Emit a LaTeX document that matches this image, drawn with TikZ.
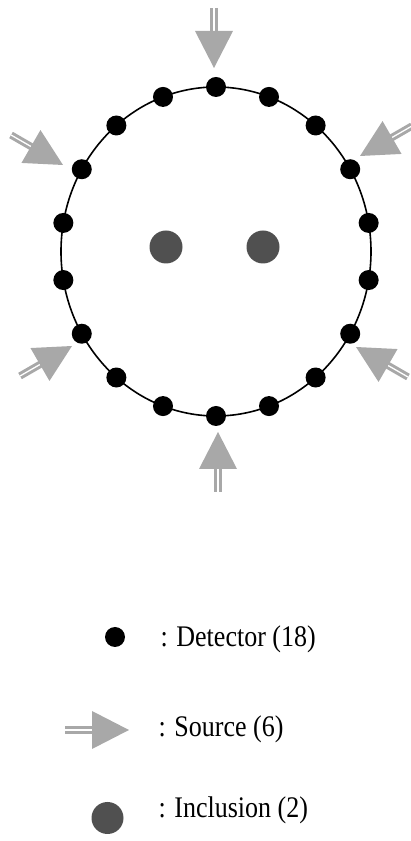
\documentclass[tikz,border=0pt]{standalone}
\usepackage{fontspec}
\setmainfont{Liberation Serif}
\usetikzlibrary{calc,positioning}
\definecolor{srcgray}{HTML}{A8A8A8}
\definecolor{incgray}{HTML}{505050}
\tikzset{
  detector/.style={circle, fill=black, inner sep=0pt, minimum size=20pt},
  inclusion/.style={circle, fill=incgray, inner sep=0pt, minimum size=33pt},
  shaft/.style={srcgray, line width=3pt, double=white, double distance=1.3pt},
  keytext/.style={anchor=base west, font=\fontsize{26}{30}\selectfont, yscale=1.15},
}
% source arrow: tip, direction, total length
\newcommand{\sourcearrow}[3]{%
  \draw[shaft] ($(#1)+({#2+180}:#3)$) -- ($(#1)+({#2+180}:35)$);
  \fill[srcgray] (#1) -- ($(#1)+({#2+180}:37)+({#2+90}:19)$)
    -- ($(#1)+({#2+180}:37)+({#2-90}:19)$) -- cycle;
}

\begin{document}
\begin{tikzpicture}[x=1pt, y=1pt]
  \useasboundingbox (0,0) rectangle (411,841);
  \coordinate (c) at (216,589.5);

  % Boundary
  \draw[line width=1.6pt] (c) ellipse [x radius=155, y radius=164.5];
  % Detectors
  \foreach \k in {0,...,17} {
    \node[detector] (d\k) at ($(c)+({155*cos(90+20*\k)},{164.5*sin(90+20*\k)})$) {};
  }
  % Inclusions
  \node[inclusion] (inc1) at (166,594) {};
  \node[inclusion] (inc2) at (263,594) {};
  % Sources
  \foreach \n/\x/\y/\a in {1/214/773/-90, 2/360/685/210, 3/356/494/150,
                           4/218/409/90, 5/72/495/30, 6/63/676/-30} {
    \coordinate (s\n) at (\x,\y);
    \sourcearrow{s\n}{\a}{60}
  }

  % Legend
  \node[detector] (keydet) at (115,204) {};
  \node[keytext] (txtdet) at (157,194) {: Detector (18)};
  \coordinate (keysrc) at (129,111);
  \sourcearrow{keysrc}{0}{64}
  \node[keytext] (txtsrc) at (155,104) {: Source (6)};
  \node[inclusion, minimum size=32pt] (keyinc) at (107.5,23) {};
  \node[keytext] (txtinc) at (155,23) {: Inclusion (2)};
\end{tikzpicture}
\end{document}
